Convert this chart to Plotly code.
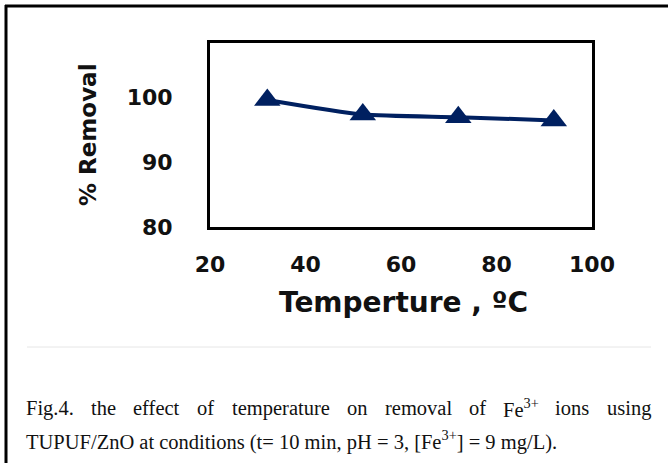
import plotly.graph_objects as go

# Data
temperature = [32, 52, 72, 92]
removal = [99.6, 97.35, 96.95, 96.45]
x_ticks = [20, 40, 60, 80, 100]
y_ticks = [80, 90, 100]

W, H = 668, 463
def px(x): return x / W
def py(y): return 1 - y / H

NAVY = "#002060"
fig = go.Figure()
fig.add_trace(go.Scatter(
    x=temperature, y=removal, mode="lines+markers",
    line=dict(color=NAVY, width=4, shape="spline", smoothing=0.6),
    marker=dict(symbol="triangle-up", size=23, color=NAVY),
    showlegend=False, cliponaxis=False,
))

axis_font = dict(family="DejaVu Sans", size=22, color="#111111")
fig.update_layout(
    width=W, height=H, autosize=False,
    margin=dict(l=0, r=0, t=0, b=0, pad=0, autoexpand=False),
    paper_bgcolor="white", plot_bgcolor="white",
    xaxis=dict(domain=[px(210), px(592)], range=[20, 100], tickvals=x_ticks,
               showgrid=False, zeroline=False, showline=True, mirror=True,
               linecolor="black", linewidth=3, automargin=False,
               ticks="outside", ticklen=16, tickcolor="rgba(0,0,0,0)",
               tickfont=dict(axis_font, weight="bold")),
    yaxis=dict(domain=[py(227), py(43)], range=[80, 108.4], tickvals=y_ticks,
               showgrid=False, zeroline=False, showline=True, mirror=True,
               linecolor="black", linewidth=3, automargin=False,
               ticks="outside", ticklen=30, tickcolor="rgba(0,0,0,0)",
               tickfont=dict(axis_font, weight="bold")),
)

# axis titles
fig.add_annotation(text="<b>% Removal</b>", x=px(88), y=py(135), xref="paper", yref="paper",
                   textangle=-90, showarrow=False, font=dict(family="DejaVu Sans", size=23, color="#111111"),
                   xanchor="center", yanchor="middle")
fig.add_annotation(text="<b>Temperture , ºC</b>", x=px(403), y=py(302), xref="paper", yref="paper",
                   showarrow=False, font=dict(family="DejaVu Sans", size=28, color="#111111"),
                   xanchor="center", yanchor="middle")

# outer frame (left and top) and separator
fig.add_shape(type="line", xref="paper", yref="paper", x0=px(6), x1=px(6), y0=py(5), y1=py(463),
              line=dict(color="black", width=3))
fig.add_shape(type="line", xref="paper", yref="paper", x0=px(5), x1=px(668), y0=py(6), y1=py(6),
              line=dict(color="black", width=3))
fig.add_shape(type="line", xref="paper", yref="paper", x0=px(27), x1=px(651), y0=py(347), y1=py(347),
              line=dict(color="#e6e6e6", width=1))

# caption (justified first line: words placed individually)
cap_font = dict(family="Liberation Serif", size=20.5, color="#111111")
line1_words = ["Fig.4.", "the", "effect", "of", "temperature", "on", "removal", "of",
               "Fe<sup>3+</sup>", "ions", "using"]
line1_x = [24, 89, 131, 195, 230, 345, 383, 467, 501, 553, 605]
for w, xw in zip(line1_words, line1_x):
    fig.add_annotation(text=w, x=px(xw), y=py(408), xref="paper", yref="paper",
                       showarrow=False, font=cap_font, xanchor="left", yanchor="middle")
fig.add_annotation(text="TUPUF/ZnO at conditions (t= 10 min, pH = 3, [Fe<sup>3+</sup>] = 9 mg/L).",
                   x=px(24), y=py(440), xref="paper", yref="paper",
                   showarrow=False, font=cap_font, xanchor="left", yanchor="middle")

fig.write_html("out.html", config={"responsive": False})
